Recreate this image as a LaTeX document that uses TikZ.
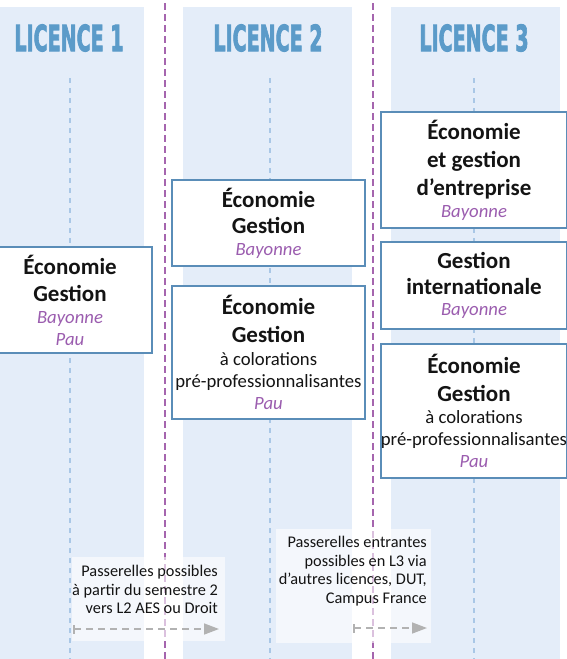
\documentclass[tikz,border=0pt]{standalone}
\usepackage{fontspec}
\setmainfont{Carlito}
\newfontfamily\headfont{DejaVu Sans}[BoldFeatures={FakeBold=3}]
\usepackage{graphicx}
\usetikzlibrary{arrows.meta}
\definecolor{bandcol}{HTML}{E4EDF9}
\definecolor{headblue}{HTML}{5B9BC9}
\definecolor{purp}{HTML}{A565AE}
\definecolor{midline}{HTML}{A9C7E6}
\definecolor{boxline}{HTML}{5A8DB8}
\definecolor{loccol}{HTML}{9B5DAF}
\definecolor{arrgray}{HTML}{B2B2B2}
\definecolor{txt}{HTML}{141414}
\newcommand\ttl[1]{{\fontsize{23}{27}\selectfont\bfseries #1}}
\newcommand\lieu[1]{{\itshape\color{loccol}#1}}
\newcommand\hd[1]{\scalebox{0.53}[1]{#1}}
\begin{document}
\begin{tikzpicture}[x=1pt,y=-1pt,
  bandbox/.style={fill=bandcol, draw=none},
  sepline/.style={draw=purp, line width=2pt, dash pattern=on 7pt off 4pt},
  midl/.style={draw=midline, line width=1.3pt, dash pattern=on 5pt off 5pt},
  headtxt/.style={text=headblue, font=\headfont\bfseries\fontsize{36}{40}\selectfont, inner sep=0pt},
  prog/.style={draw=boxline, line width=1.5pt, fill=white, align=center, font=\fontsize{18.7}{22}\selectfont, text=txt, inner sep=0pt},
  passbox/.style={fill=white, fill opacity=0.6, draw=none, inner sep=0pt},
  passtxt/.style={align=right, font=\fontsize{16.3}{18.6}\selectfont, text=txt, inner sep=0pt},
  parr/.style={draw=arrgray, line width=1.5pt, dash pattern=on 7pt off 5pt, {Bar[width=9pt]}-{Triangle[length=15pt,width=11pt]}}
]
\useasboundingbox (0,0) rectangle (567,659);
% column bands
\path[bandbox] (0,7) rectangle (144,659);
\path[bandbox] (183,7) rectangle (352,659);
\path[bandbox] (391,7) rectangle (560,659);
% separators
\coordinate (s1t) at (164.5,3); \coordinate (s1b) at (164.5,659);
\coordinate (s2t) at (372.5,3); \coordinate (s2b) at (372.5,659);
\draw[sepline] (s1t) -- (s1b);
\draw[sepline] (s2t) -- (s2b);
% centre lines
\coordinate (m1t) at (70,78); \coordinate (m1b) at (70,659);
\coordinate (m2t) at (270,78); \coordinate (m2b) at (270,659);
\coordinate (m3t) at (474,78); \coordinate (m3b) at (474,659);
\draw[midl] (m1t) -- (m1b);
\draw[midl] (m2t) -- (m2b);
\draw[midl] (m3t) -- (m3b);
% headers
\node[headtxt] (h1) at (69,38) {\hd{LICENCE 1}};
\node[headtxt] (h2) at (268,38) {\hd{LICENCE 2}};
\node[headtxt] (h3) at (474,38) {\hd{LICENCE 3}};
% programmes
\node[prog, minimum width=164pt, minimum height=106pt] (l1) at (70,300)
  {\ttl{Économie}\\[5pt]\ttl{Gestion}\\\lieu{Bayonne}\\\lieu{Pau}};
\node[prog, minimum width=193pt, minimum height=86pt] (l2a) at (268.5,223)
  {\ttl{Économie}\\[4pt]\ttl{Gestion}\\\lieu{Bayonne}};
\node[prog, minimum width=193pt, minimum height=133pt] (l2b) at (268.5,352.5)
  {\ttl{Économie}\\[6pt]\ttl{Gestion}\\[1pt]à colorations\\pré-professionnalisantes\\\lieu{Pau}};
\node[prog, minimum width=186pt, minimum height=116pt] (l3a) at (474,170)
  {\ttl{Économie}\\[6pt]\ttl{et gestion}\\[6pt]\ttl{d’entreprise}\\\lieu{Bayonne}};
\node[prog, minimum width=186pt, minimum height=87pt] (l3b) at (474,285.5)
  {\ttl{Gestion}\\[4pt]\ttl{internationale}\\[-1pt]\lieu{Bayonne}};
\node[prog, minimum width=186pt, minimum height=134pt] (l3c) at (474,411)
  {\ttl{Économie}\\[6pt]\ttl{Gestion}\\à colorations\\pré-professionnalisantes\\\lieu{Pau}};
% passerelles
\node[passbox, minimum width=153pt, minimum height=84pt] (p1) at (148.5,599) {};
\node[passbox, minimum width=155pt, minimum height=114pt] (p2) at (353.5,586) {};
\node[passtxt, anchor=north east] (t1) at (218,565)
  {Passerelles possibles\\à partir du semestre 2\\vers L2 AES ou Droit};
\node[passtxt, anchor=north east] (t2) at (427,536)
  {Passerelles entrantes\\possibles en L3 via\\d’autres licences, DUT,\\Campus France};
\coordinate (a1s) at (73,629); \coordinate (a1e) at (219,629);
\coordinate (a2s) at (353,628); \coordinate (a2e) at (427,628);
\draw[parr] (a1s) -- (a1e);
\draw[parr] (a2s) -- (a2e);
\end{tikzpicture}
\end{document}
